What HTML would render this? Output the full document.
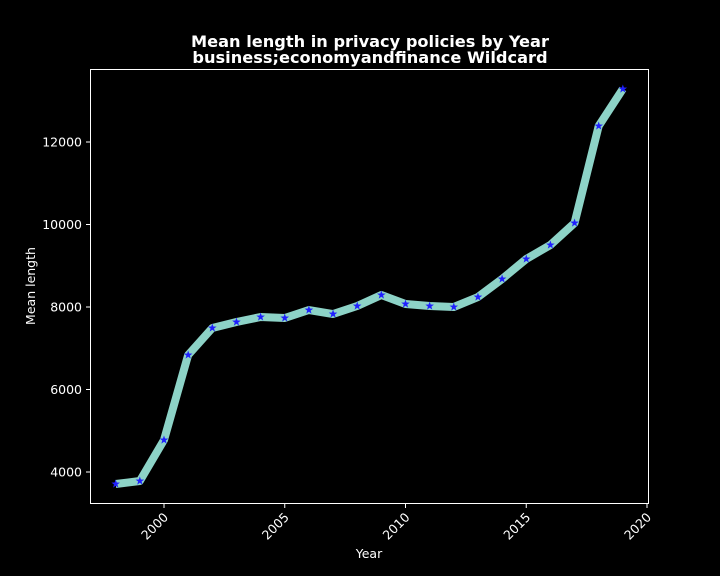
<!DOCTYPE html>
<html><head><meta charset="utf-8"><style>
body{margin:0;background:#000;}
svg{display:block;font-family:"DejaVu Sans","Liberation Sans",sans-serif;}
</style></head><body>
<svg id="chart" width="720" height="576">
<rect width="720" height="576" fill="#000"/>
<text x="370" y="47" text-anchor="middle" fill="#fff" font-size="16.2" font-weight="bold">Mean length in privacy policies by Year</text>
<text x="370" y="63" text-anchor="middle" fill="#fff" font-size="16.2" font-weight="bold">business;economyandfinance Wildcard</text>
<rect x="90.5" y="69.5" width="558" height="434" fill="none" stroke="#fff" stroke-width="1"/>
<g id="xt"></g><g id="yt"></g><g id="series"></g>
<text x="369" y="558" text-anchor="middle" fill="#fff" font-size="12.5">Year</text>
<text transform="translate(35,286) rotate(-90)" text-anchor="middle" fill="#fff" font-size="12.5">Mean length</text>
</svg>
<script>
const years=[1998,1999,2000,2001,2002,2003,2004,2005,2006,2007,2008,2009,2010,2011,2012,2013,2014,2015,2016,2017,2018,2019];
const meanLength=[3709,3782,4776,6836,7491,7636,7758,7733,7927,7830,8024,8291,8073,8024,8000,8242,8679,9164,9503,10036,12388,13285];
const xTicks=[2000,2005,2010,2015,2020];
const yTicks=[4000,6000,8000,10000,12000];
const NS="http://www.w3.org/2000/svg";
function xs(v){return 164+(v-2000)*24.15;}
function ys(v){return 472-(v-4000)*82.5/2000;}
function mk(t,a){const e=document.createElementNS(NS,t);for(const k in a)e.setAttribute(k,a[k]);return e;}
const xt=document.getElementById('xt'),yt=document.getElementById('yt'),sg=document.getElementById('series');
xTicks.forEach(v=>{const x=xs(v);
const l=mk('line',{x1:x,x2:x,y1:503.5,y2:508,stroke:'#fff'});


xt.appendChild(l);
const t=mk('text',{transform:`translate(${x+5},${518}) rotate(-45)`,'text-anchor':'end',fill:'#fff','font-size':12.5});
t.textContent=v;


xt.appendChild(t);});
yTicks.forEach(v=>{const y=ys(v);
const l=mk('line',{x1:86,x2:90.5,y1:y,y2:y,stroke:'#fff'});


yt.appendChild(l);
const t=mk('text',{x:82,y:y+4.5,'text-anchor':'end',fill:'#fff','font-size':12.5});
t.textContent=v;


yt.appendChild(t);});
const pts=years.map((y,i)=>xs(y)+','+ys(meanLength[i])).join(' ');
const pl=mk('polyline',{points:pts,fill:'none',stroke:'#8dd3c7','stroke-width':8,'stroke-linejoin':'round','stroke-linecap':'butt'});


sg.appendChild(pl);
function star(cx,cy,r){let p=[];for(let i=0;i<10;i++){const a=-Math.PI/2+i*Math.PI/5;const rr=i%2?r*0.4:r;p.push((cx+rr*Math.cos(a)).toFixed(2)+','+(cy+rr*Math.sin(a)).toFixed(2));}return p.join(' ');}
years.forEach((y,i)=>{const s=mk('polygon',{points:star(xs(y),ys(meanLength[i]),4.5),fill:'#1f1fff'});


sg.appendChild(s);});
</script>
</body></html>
